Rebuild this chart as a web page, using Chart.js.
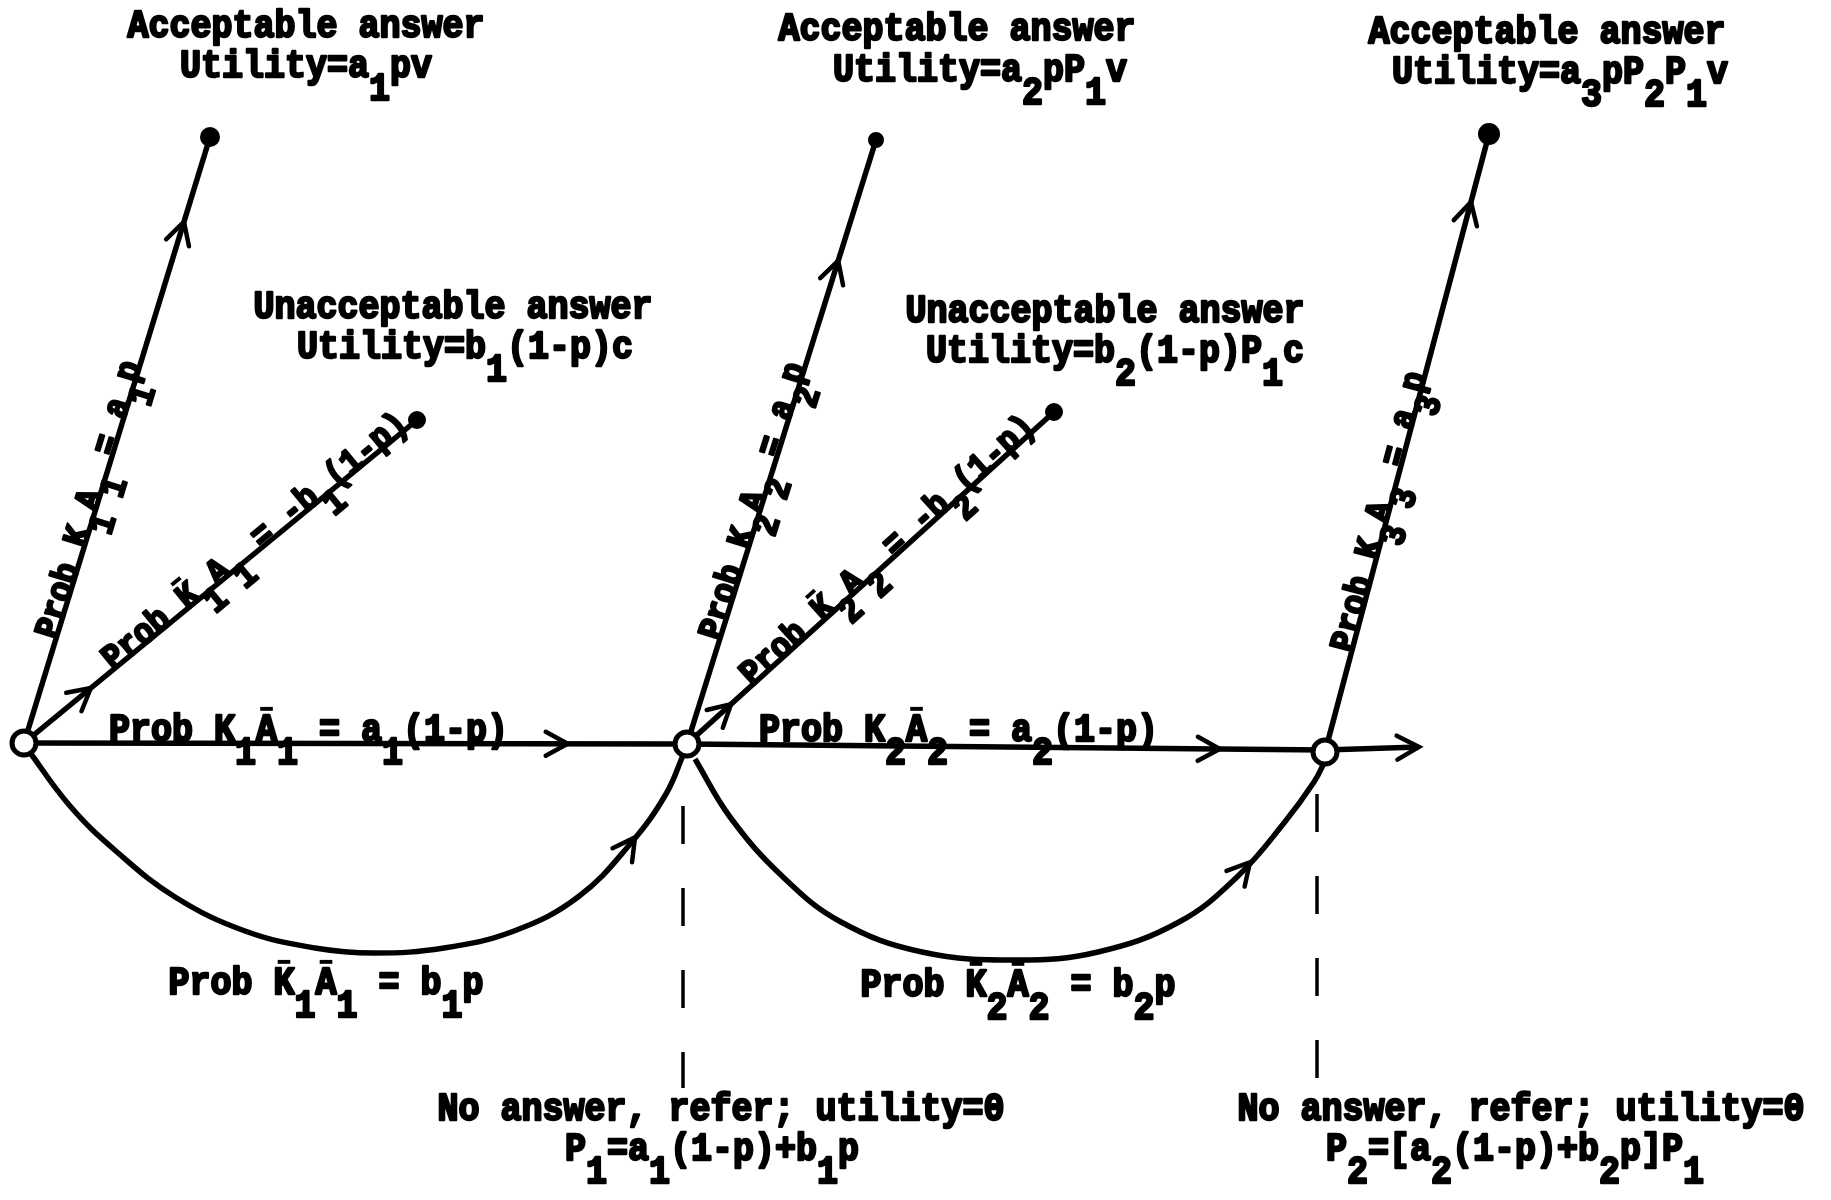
<!DOCTYPE html>
<html><head><meta charset="utf-8">
<script src="https://cdn.jsdelivr.net/npm/chart.js@4/dist/chart.umd.min.js"></script>
<style>html,body{margin:0;padding:0;background:#fff;}canvas{display:block;}</style>
</head><body>
<canvas id="c" width="1831" height="1200"></canvas>
<script>
// ---- diagram data (in picture units) ----
const nodeX = [24, 687, 1325];
const nodeY = [743, 744, 752];
const acceptX = [210, 876, 1489];
const acceptY = [137, 140, 134];
const rejectX = [417, 1054];
const rejectY = [420, 412];
const exitX = [1325, 1419];
const exitY = [750, 747];
const arc1X = [26, 70, 117, 175, 245, 315, 374, 444, 514, 578, 631, 666, 684];
const arc1Y = [747, 806, 852, 897, 931, 948, 953, 948, 931, 897, 843, 794, 753];
const arc2X = [695, 730, 782, 841, 922, 1017, 1098, 1179, 1238, 1284, 1314, 1325];
const arc2Y = [759, 817, 876, 922, 952, 960, 952, 922, 876, 823, 782, 761];
const dropX = [683, 1317];
const dropTop = [806, 794];
const dropBottom = [1088, 1082];

// ---- texts ----
const acceptTitles = ['Acceptable answer', 'Acceptable answer', 'Acceptable answer'];
const acceptUtil = ['Utility=a_1pv', 'Utility=a_2pP_1v', 'Utility=a_3pP_2P_1v'];
const rejectTitles = ['Unacceptable answer', 'Unacceptable answer'];
const rejectUtil = ['Utility=b_1(1-p)c', 'Utility=b_2(1-p)P_1c'];
const acceptProb = ['Prob K_1A_1 = a_1p', 'Prob K_2A_2 = a_2p', 'Prob K_3A_3 = a_3p'];
const rejectProb = ['Prob ~K_1A_1 = -b_1(1-p)', 'Prob ~K_2A_2 = -b_2(1-p)'];
const passProb = ['Prob K_1~A_1 = a_1(1-p)', 'Prob K_2~A_2 = a_2(1-p)'];
const loopProb = ['Prob ~K_1~A_1 = b_1p', 'Prob ~K_2~A_2 = b_2p'];
const referText = ['No answer, refer; utility=0', 'No answer, refer; utility=0'];
const referFormula = ['P_1=a_1(1-p)+b_1p', 'P_2=[a_2(1-p)+b_2p]P_1'];

// ---- layout (positions of text & arrows) ----
const L = {
  acceptTitle: [[306, 37], [957, 40], [1547, 43]],
  acceptUtil: [[306, 77], [980, 81], [1560, 83]],
  rejectTitle: [[453, 318], [1105, 322]],
  rejectUtil: [[465, 358], [1115, 362]],
  passProb: [[109, 741], [759, 741]],
  loopProb: [[326, 994], [1018, 996]],
  referText: [[721, 1120], [1521, 1120]],
  referFormula: [[712, 1160], [1515, 1160]],
  acceptProbT: [0.17, 0.17, 0.16],
  rejectProbT: [0.225, 0.175],
};

const pts = (xs, ys) => xs.map((x, i) => ({x, y: ys[i]}));
const edge = (x0, y0, x1, y1) => [{x: x0, y: y0}, {x: x1, y: y1}];
const black = '#000';
const LW = 5.5;

const lineDS = (data, extra) => Object.assign({
  data, showLine: true, borderColor: black, borderWidth: LW, pointRadius: 0,
  fill: false, tension: 0, order: 2
}, extra || {});

const acceptEdges = acceptX.map((x, i) => edge(nodeX[i], nodeY[i], x, acceptY[i]));
const rejectEdges = rejectX.map((x, i) => edge(nodeX[i], nodeY[i], x, rejectY[i]));
const passEdges = [edge(nodeX[0], nodeY[0], nodeX[1], nodeY[1]), edge(nodeX[1], nodeY[1], nodeX[2], nodeY[2] - 2)];
const exitEdge = pts(exitX, exitY);
const arc1 = pts(arc1X, arc1Y);
const arc2 = pts(arc2X, arc2Y);

const datasets = [
  {data: pts(nodeX, nodeY), pointRadius: 12, pointBorderWidth: 5, pointBackgroundColor: '#fff',
   pointBorderColor: black, showLine: false, order: 0},
  {data: pts(acceptX, acceptY), pointRadius: [9, 7, 10], pointBorderWidth: 2, pointBackgroundColor: black,
   pointBorderColor: black, showLine: false, order: 0},
  {data: pts(rejectX, rejectY), pointRadius: 8, pointBorderWidth: 2, pointBackgroundColor: black,
   pointBorderColor: black, showLine: false, order: 0},
  ...acceptEdges.map(d => lineDS(d)),
  ...rejectEdges.map(d => lineDS(d)),
  ...passEdges.map(d => lineDS(d)),
  lineDS(exitEdge),
  lineDS(arc1, {tension: 0.4}),
  lineDS(arc2, {tension: 0.4}),
  ...dropX.map((x, i) => lineDS(edge(x, dropTop[i], x, dropBottom[i]), {borderWidth: 3.5, borderDash: [38, 44]})),
];

// arrows: which path, fraction along it
const arrows = [
  [acceptEdges[0], 0.86], [acceptEdges[1], 0.80], [acceptEdges[2], 0.89],
  [rejectEdges[0], 0.17], [rejectEdges[1], 0.12],
  [passEdges[0], 0.82], [passEdges[1], 0.835], [exitEdge, 1.0],
  [arc1, 0.88], [arc2, 0.84],
];

function drawRich(ctx, str, x, y, opt) {
  const size = opt.size;
  ctx.save();
  ctx.translate(x, y);
  if (opt.angle) ctx.rotate(opt.angle);
  if (opt.dy) ctx.translate(0, opt.dy);
  ctx.scale(opt.sx || 1, opt.sy || 1.12);
  ctx.font = `bold ${size}px "Liberation Mono", "Courier New", monospace`;
  ctx.textBaseline = 'alphabetic';
  ctx.textAlign = 'left';
  const tokens = [];
  for (let i = 0; i < str.length; i++) {
    let c = str[i], mode = 'n', bar = false;
    while (c === '~' || c === '_' || c === '^') {
      if (c === '~') bar = true; else mode = c === '_' ? 'sub' : 'sup';
      i++; c = str[i];
    }
    tokens.push({c, mode, bar});
  }
  const adv = ctx.measureText('M').width;
  const total = tokens.length * adv;
  let cx = opt.align === 'center' ? -total / 2 : 0;
  ctx.fillStyle = black; ctx.strokeStyle = black; ctx.lineJoin = 'round';
  const w = opt.weight || 2.2;
  for (const t of tokens) {
    const dy = t.mode === 'sub' ? size * 0.58 : t.mode === 'sup' ? -size * 0.3 : 0;
    ctx.lineWidth = w;
    ctx.fillText(t.c, cx, dy);
    ctx.strokeText(t.c, cx, dy);
    if (t.bar) {
      ctx.beginPath(); ctx.lineWidth = 3.5;
      ctx.moveTo(cx + adv * 0.2, dy - size * 0.82);
      ctx.lineTo(cx + adv * 0.8, dy - size * 0.82);
      ctx.stroke();
    }
    cx += adv;
  }
  ctx.restore();
}

const overlay = {
  id: 'overlay',
  afterDatasetsDraw(chart) {
    const ctx = chart.ctx;
    const X = v => chart.scales.x.getPixelForValue(v);
    const Y = v => chart.scales.y.getPixelForValue(v);
    function along(path, t) {
      const P = path.map(p => [X(p.x), Y(p.y)]);
      const seg = []; let tot = 0;
      for (let i = 1; i < P.length; i++) { const d = Math.hypot(P[i][0] - P[i-1][0], P[i][1] - P[i-1][1]); seg.push(d); tot += d; }
      let rem = t * tot;
      for (let i = 1; i < P.length; i++) {
        if (rem <= seg[i-1] || i === P.length - 1) {
          const f = Math.min(1, rem / seg[i-1]);
          return {x: P[i-1][0] + (P[i][0] - P[i-1][0]) * f, y: P[i-1][1] + (P[i][1] - P[i-1][1]) * f,
                  a: Math.atan2(P[i][1] - P[i-1][1], P[i][0] - P[i-1][0])};
        }
        rem -= seg[i-1];
      }
    }
    // arrows
    ctx.save();
    ctx.strokeStyle = black; ctx.lineWidth = 4.5; ctx.lineCap = 'round';
    for (const [path, t] of arrows) {
      const p = along(path, t);
      const len = 25, spread = 0.5;
      ctx.beginPath();
      ctx.moveTo(p.x - len * Math.cos(p.a - spread), p.y - len * Math.sin(p.a - spread));
      ctx.lineTo(p.x, p.y);
      ctx.lineTo(p.x - len * Math.cos(p.a + spread), p.y - len * Math.sin(p.a + spread));
      ctx.stroke();
    }
    ctx.restore();

    const S = 35;
    const put = (txt, pos, align) => drawRich(ctx, txt, X(pos[0]), Y(pos[1]), {size: S, align});
    acceptTitles.forEach((s, i) => put(s, L.acceptTitle[i], 'center'));
    acceptUtil.forEach((s, i) => put(s, L.acceptUtil[i], 'center'));
    rejectTitles.forEach((s, i) => put(s, L.rejectTitle[i], 'center'));
    rejectUtil.forEach((s, i) => put(s, L.rejectUtil[i], 'center'));
    passProb.forEach((s, i) => put(s, L.passProb[i], 'left'));
    loopProb.forEach((s, i) => put(s, L.loopProb[i], 'center'));
    referText.forEach((s, i) => put(s, L.referText[i], 'center'));
    referFormula.forEach((s, i) => put(s, L.referFormula[i], 'center'));
    // rotated labels along edges
    acceptProb.forEach((s, i) => {
      const p = along(acceptEdges[i], L.acceptProbT[i]);
      drawRich(ctx, s, p.x, p.y, {size: 32, angle: p.a, align: 'left', dy: 1});
    });
    rejectProb.forEach((s, i) => {
      const p = along(rejectEdges[i], L.rejectProbT[i]);
      drawRich(ctx, s, p.x, p.y, {size: 32, angle: p.a, align: 'left', dy: 1});
    });
  }
};

const chart = new Chart(document.getElementById('c'), {
  type: 'scatter',
  data: {datasets},
  options: {
    responsive: false, animation: false, events: [],
    layout: {padding: 0, autoPadding: false},
    scales: {
      x: {type: 'linear', min: 0, max: 1831, display: false},
      y: {type: 'linear', min: 0, max: 1200, reverse: true, display: false}
    },
    plugins: {legend: {display: false}, tooltip: {enabled: false}}
  },
  plugins: [overlay]
});
</script>
</body></html>
